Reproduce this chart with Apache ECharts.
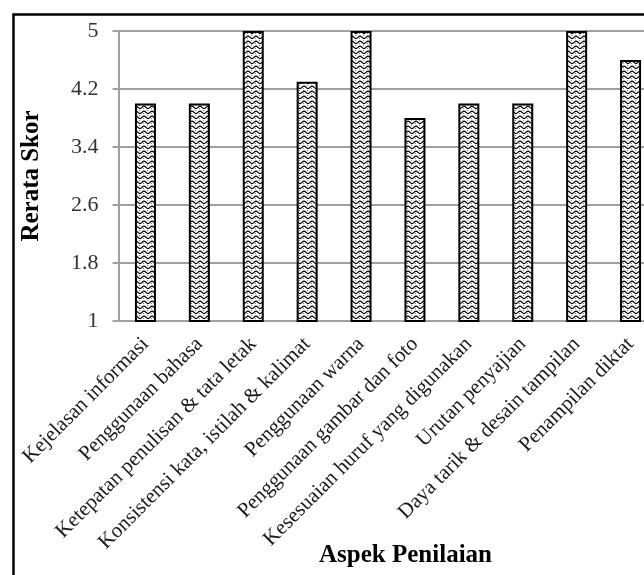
<!DOCTYPE html>
<html>
<head>
<meta charset="utf-8">
<script src="https://cdn.jsdelivr.net/npm/echarts@6/dist/echarts.min.js"></script>
<style>
  html, body { margin: 0; padding: 0; background: #ffffff; }
  #chart { width: 644px; height: 575px; }
</style>
</head>
<body>
<div id="chart"></div>
<script>
// Assessment aspects and their mean scores
var categories = [
  'Kejelasan informasi',
  'Penggunaan bahasa',
  'Ketepatan penulisan & tata letak',
  'Konsistensi kata, istilah & kalimat',
  'Penggunaan warna',
  'Penggunaan gambar dan foto',
  'Kesesuaian huruf yang digunakan',
  'Urutan penyajian',
  'Daya tarik & desain tampilan',
  'Penampilan diktat'
];
var scores = [4, 4, 5, 4.3, 5, 3.8, 4, 4, 5, 4.6];

// Value axis range and step
var yMin = 1;
var yMax = 5;
var yStep = 0.8;

// Wavy hatch tile used to fill the bars
function makeWaveTile() {
  var c = document.createElement('canvas');
  c.width = 8;
  c.height = 5;
  var g = c.getContext('2d');
  g.fillStyle = '#ffffff';
  g.fillRect(0, 0, 8, 5);
  g.strokeStyle = '#000000';
  g.lineWidth = 1.2;
  g.beginPath();
  g.moveTo(0, 1.2);
  g.bezierCurveTo(1.5, 1.2, 2.5, 3.6, 4, 3.6);
  g.bezierCurveTo(5.5, 3.6, 6.5, 1.2, 8, 1.2);
  g.stroke();
  g.fillStyle = '#7a7a7a';
  g.fillRect(3, 0, 1, 1);
  g.fillRect(7, 3, 1, 1);
  return c;
}

var chart = echarts.init(document.getElementById('chart'), null, { renderer: 'canvas' });

var option = {
  animation: false,
  backgroundColor: '#ffffff',
  graphic: [{
    type: 'rect',
    shape: { x: 13.5, y: 14.5, width: 700, height: 620 },
    style: { fill: 'none', stroke: '#000000', lineWidth: 2.5 },
    silent: true,
    z: 100
  }],
  grid: {
    left: 118.5,
    top: 31,
    width: 539,
    height: 290,
    containLabel: false,
    outerBoundsMode: 'none'
  },
  xAxis: {
    type: 'category',
    data: categories,
    name: 'Aspek Penilaian',
    nameLocation: 'middle',
    nameGap: 222,
    nameMoveOverlap: false,
    nameTextStyle: {
      fontFamily: 'Liberation Serif',
      fontWeight: 'bold',
      fontSize: 25,
      color: '#000000',
      padding: [0, 0, 0, 35]
    },
    axisLine: { lineStyle: { color: '#a0a0a0', width: 2 } },
    axisTick: { show: false },
    axisLabel: {
      interval: 0,
      rotate: 45,
      margin: 20,
      fontFamily: 'Liberation Serif',
      fontSize: 21,
      color: '#1a1a1a'
    }
  },
  yAxis: {
    type: 'value',
    min: yMin,
    max: yMax,
    interval: yStep,
    name: 'Rerata Skor',
    nameLocation: 'middle',
    nameGap: 74,
    nameMoveOverlap: false,
    nameTextStyle: {
      fontFamily: 'Liberation Serif',
      fontWeight: 'bold',
      fontSize: 25,
      color: '#000000'
    },
    axisLine: { show: true, lineStyle: { color: '#a0a0a0', width: 2 } },
    axisTick: { show: true, length: 6, lineStyle: { color: '#a0a0a0', width: 2 } },
    axisLabel: {
      margin: 20,
      fontFamily: 'Liberation Serif',
      fontSize: 22,
      color: '#333333',
      formatter: function (v) { return String(+v.toFixed(1)); }
    },
    splitLine: { show: true, lineStyle: { color: '#a0a0a0', width: 2 } }
  },
  series: [{
    type: 'bar',
    data: scores,
    barWidth: 21,
    itemStyle: {
      color: { image: makeWaveTile(), repeat: 'repeat' },
      borderColor: '#000000',
      borderWidth: 2
    }
  }]
};

chart.setOption(option);
</script>
</body>
</html>
